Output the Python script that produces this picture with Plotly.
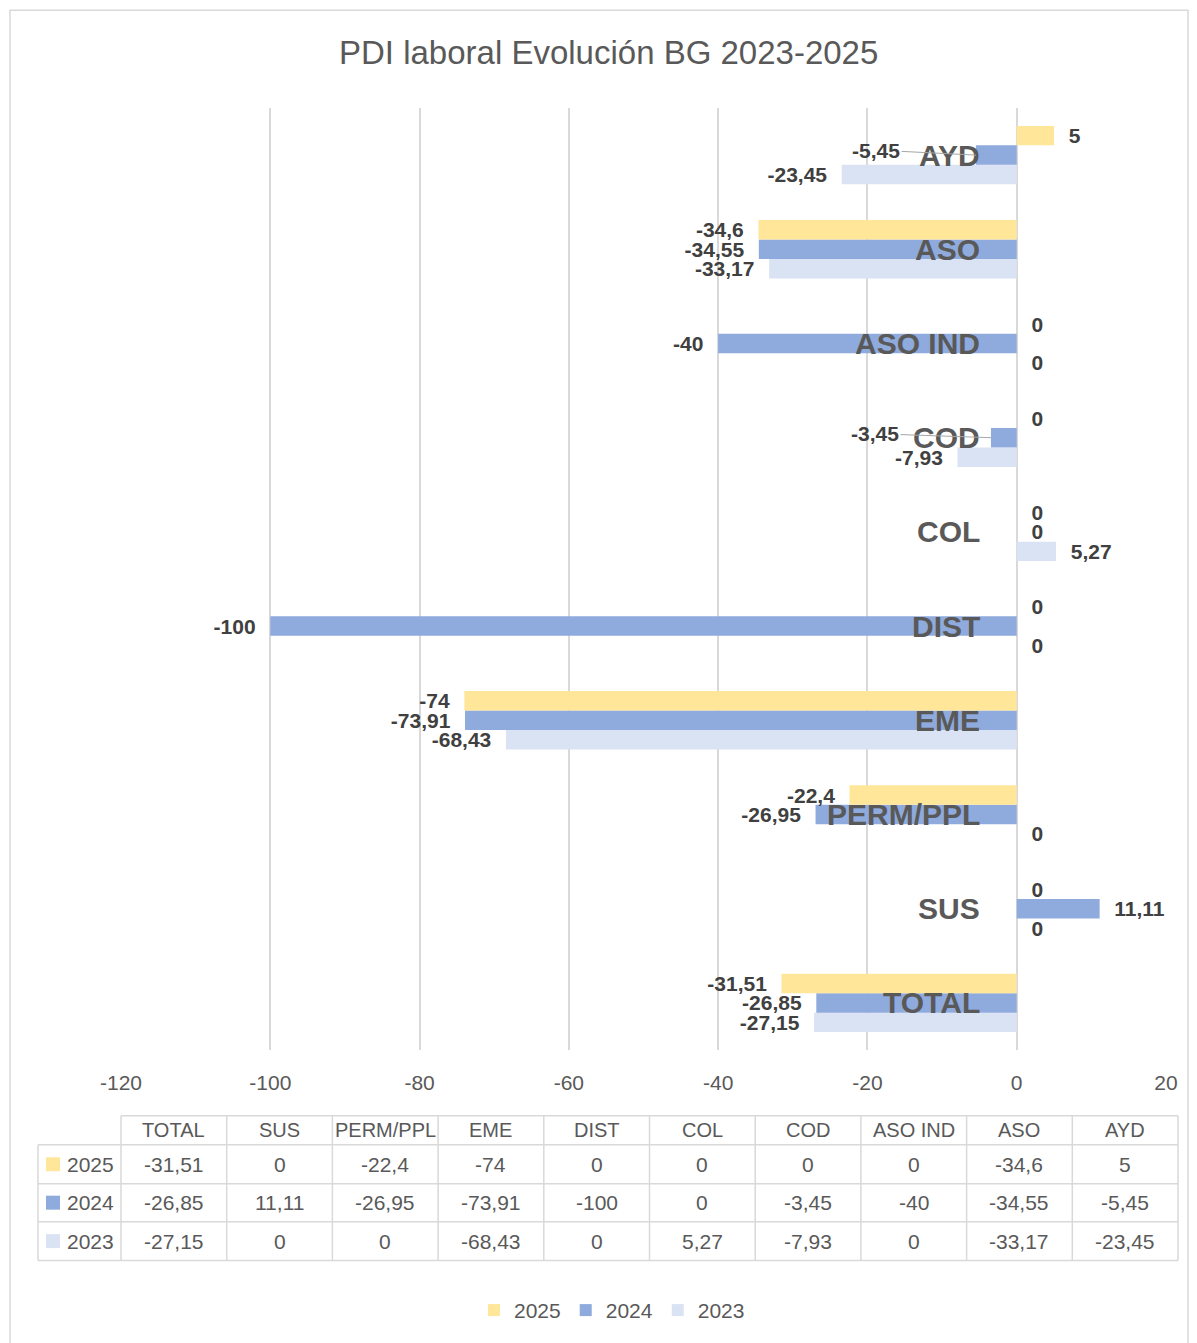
import plotly.graph_objects as go

# ---- data ----
categories = ["TOTAL", "SUS", "PERM/PPL", "EME", "DIST", "COL", "COD", "ASO IND", "ASO", "AYD"]
v2025 = [-31.51, 0, -22.4, -74, 0, 0, 0, 0, -34.6, 5]
v2024 = [-26.85, 11.11, -26.95, -73.91, -100, 0, -3.45, -40, -34.55, -5.45]
v2023 = [-27.15, 0, 0, -68.43, 0, 5.27, -7.93, 0, -33.17, -23.45]
series_names = ["2025", "2024", "2023"]
tick_vals = [-120, -100, -80, -60, -40, -20, 0, 20]
tick_text = ["-120", "-100", "-80", "-60", "-40", "-20", "0", "20"]
title_text = "PDI laboral Evolución BG 2023-2025"
# 2024 labels that are moved aside with a leader line (category, label offset in px)
leader_labels_2024 = {"AYD": (-100, -5), "COD": (-116, -4)}

colors = {"2025": "#FFE699", "2024": "#8FAADC", "2023": "#DAE3F3"}
FONT = "Liberation Sans, Arial, sans-serif"
GRAY = "#595959"
DARK = "#404040"
LINE = "#d9d9d9"

OFF = 8  # page body margin
W, H = 1197 - OFF, 1343 - OFF
L, T = 121 - OFF, 108 - OFF
R = W - (1166 - OFF)
B = H - (1052 - OFF)
PW, PH = W - L - R, H - T - B


def PX(x):
    return (x - OFF - L) / PW


def PY(y):
    return (H - B - (y - OFF)) / PH


def fmt(v):
    return ("%g" % v).replace(".", ",")


def label(v):
    s = fmt(v)
    nb = "\u00a0\u00a0"
    return s + nb if v < 0 else nb + s


values = {"2025": v2025, "2024": v2024, "2023": v2023}

fig = go.Figure()
for name in ["2023", "2024", "2025"]:
    vals = values[name]
    texts = []
    for c, v in zip(categories, vals):
        if name == "2024" and c in leader_labels_2024:
            texts.append("")
        else:
            texts.append(label(v))
    fig.add_trace(go.Bar(
        y=categories, x=vals, name=name, orientation="h",
        marker=dict(color=colors[name], line=dict(width=0)),
        text=texts, textposition="outside",
        constraintext="none", cliponaxis=False,
        textfont=dict(family=FONT, size=21, color=DARK, weight="bold"),
    ))

annotations = []
shapes = []

# title
annotations.append(dict(text=title_text, x=PX(608), y=PY(52), xref="paper", yref="paper",
                        showarrow=False, xanchor="center", yanchor="middle",
                        font=dict(family=FONT, size=33, color=GRAY)))

# category labels next to zero line
for c in categories:
    annotations.append(dict(text="<b>%s</b>" % c, x=0, y=c, xref="x", yref="y",
                            showarrow=False, xanchor="right", yanchor="middle", xshift=-35,
                            font=dict(family=FONT, size=30, color=GRAY)))

# leader-line labels
for c, (ax, ay) in leader_labels_2024.items():
    v = v2024[categories.index(c)]
    annotations.append(dict(text="<b>%s</b>" % fmt(v), x=v, y=c, xref="x", yref="y",
                            showarrow=True, arrowhead=0, arrowwidth=1, arrowcolor="#a6a6a6",
                            ax=ax, ay=ay, standoff=0,
                            font=dict(family=FONT, size=21, color=DARK)))

# outer border
shapes.append(dict(type="rect", xref="paper", yref="paper", x0=PX(10), x1=PX(1188),
                   y0=PY(10), y1=PY(1360), line=dict(color=LINE, width=1.5), layer="below"))

# data table
col_edges = [121 + i * (1178 - 121) / 10 for i in range(11)]
row_edges = [1118, 1147, 1186, 1224, 1263]
shapes.append(dict(type="line", xref="paper", yref="paper", x0=PX(121), x1=PX(1178),
                   y0=PY(row_edges[0]), y1=PY(row_edges[0]), line=dict(color=LINE, width=1.5)))
for ry in row_edges[1:]:
    shapes.append(dict(type="line", xref="paper", yref="paper", x0=PX(38), x1=PX(1178),
                       y0=PY(ry), y1=PY(ry), line=dict(color=LINE, width=1.5)))
shapes.append(dict(type="line", xref="paper", yref="paper", x0=PX(38), x1=PX(38),
                   y0=PY(row_edges[1]), y1=PY(row_edges[-1]), line=dict(color=LINE, width=1.5)))
for cx in col_edges:
    shapes.append(dict(type="line", xref="paper", yref="paper", x0=PX(cx), x1=PX(cx),
                       y0=PY(row_edges[0]), y1=PY(row_edges[-1]), line=dict(color=LINE, width=1.5)))

tfont = dict(family=FONT, size=21, color=GRAY)
hy = (row_edges[0] + row_edges[1]) / 2
for i, c in enumerate(categories):
    cx = (col_edges[i] + col_edges[i + 1]) / 2
    annotations.append(dict(text=c, x=PX(cx), y=PY(hy), xref="paper", yref="paper",
                            showarrow=False, xanchor="center", yanchor="middle",
                            font=dict(family=FONT, size=20, color=GRAY)))
for r, name in enumerate(series_names):
    ry = (row_edges[r + 1] + row_edges[r + 2]) / 2
    shapes.append(dict(type="rect", xref="paper", yref="paper", x0=PX(46), x1=PX(60),
                       y0=PY(ry - 7), y1=PY(ry + 7), fillcolor=colors[name], line=dict(width=0)))
    annotations.append(dict(text=name, x=PX(65), y=PY(ry), xref="paper", yref="paper",
                            showarrow=False, xanchor="left", yanchor="middle", font=tfont))
    for i, v in enumerate(values[name]):
        cx = (col_edges[i] + col_edges[i + 1]) / 2
        annotations.append(dict(text=fmt(v), x=PX(cx), y=PY(ry), xref="paper", yref="paper",
                                showarrow=False, xanchor="center", yanchor="middle", font=tfont))

fig.update_layout(
    width=W, height=H,
    margin=dict(l=L, r=R, t=T, b=B, pad=0),
    paper_bgcolor="white", plot_bgcolor="white",
    barmode="group", bargap=0.38, bargroupgap=0,
    font=dict(family=FONT, color=GRAY),
    xaxis=dict(range=[-120, 20], tickvals=tick_vals, ticktext=tick_text,
               showgrid=True, gridcolor=LINE, gridwidth=1.5,
               zeroline=True, zerolinecolor=LINE, zerolinewidth=1.5,
               showline=False, ticks="", ticklabelstandoff=18,
               tickfont=dict(family=FONT, size=21, color=GRAY), fixedrange=True),
    yaxis=dict(range=[-0.5, 9.5], showticklabels=False, showgrid=False,
               zeroline=False, showline=False, ticks="", fixedrange=True),
    legend=dict(orientation="h", traceorder="reversed", x=PX(612), xanchor="center",
                y=PY(1313), yanchor="middle", font=dict(family=FONT, size=21, color=GRAY),
                itemwidth=30, tracegroupgap=0),
    showlegend=True,
    annotations=annotations,
    shapes=shapes,
)

fig.write_html("out.html")
